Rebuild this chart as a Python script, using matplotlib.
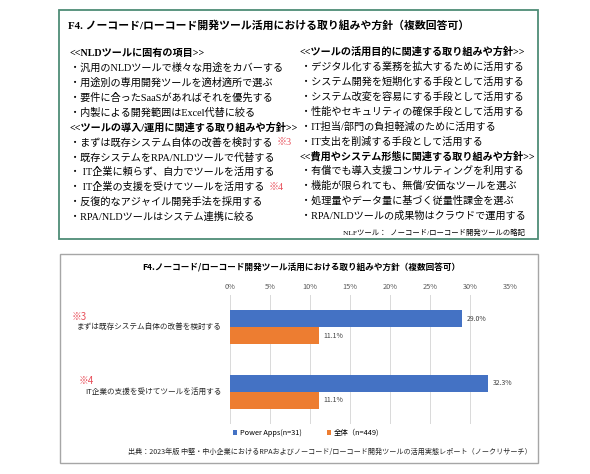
import matplotlib.pyplot as plt
from matplotlib.patches import Rectangle

# chart data
categories = ['まずは既存システム自体の改善を検討する', 'IT企業の支援を受けてツールを活用する']
notes = ['※3', '※4']
power_apps = [29.0, 32.3]
overall = [11.1, 11.1]
series_names = ['Power Apps(n=31)', '全体（n=449)']
ticks = [0, 5, 10, 15, 20, 25, 30, 35]

# text box content
box_title = 'F4. ノーコード/ローコード開発ツール活用における取り組みや方針（複数回答可）'
left_head1 = '<<NLDツールに固有の項目>>'
left_items1 = ['・汎用のNLDツールで様々な用途をカバーする',
               '・用途別の専用開発ツールを適材適所で選ぶ',
               '・要件に合ったSaaSがあればそれを優先する',
               '・内製による開発範囲はExcel代替に絞る']
left_head2 = '<<ツールの導入/運用に関連する取り組みや方針>>'
left_items2 = ['・まずは既存システム自体の改善を検討する',
               '・既存システムをRPA/NLDツールで代替する',
               '・ IT企業に頼らず、自力でツールを活用する',
               '・ IT企業の支援を受けてツールを活用する',
               '・反復的なアジャイル開発手法を採用する',
               '・RPA/NLDツールはシステム連携に絞る']
left_notes2 = ['※3', '', '', '※4', '', '']
right_head1 = '<<ツールの活用目的に関連する取り組みや方針>>'
right_items1 = ['・デジタル化する業務を拡大するために活用する',
                '・システム開発を短期化する手段として活用する',
                '・システム改変を容易にする手段として活用する',
                '・性能やセキュリティの確保手段として活用する',
                '・IT担当/部門の負担軽減のために活用する',
                '・IT支出を削減する手段として活用する']
right_head2 = '<<費用やシステム形態に関連する取り組みや方針>>'
right_items2 = ['・有償でも導入支援コンサルティングを利用する',
                '・機能が限られても、無償/安価なツールを選ぶ',
                '・処理量やデータ量に基づく従量性課金を選ぶ',
                '・RPA/NLDツールの成果物はクラウドで運用する']
abbr_note = 'NLFツール：  ノーコード/ローコード開発ツールの略記'
chart_title = 'F4.ノーコード/ローコード開発ツール活用における取り組みや方針（複数回答可）'
source = '出典：2023年版 中堅・中小企業におけるRPAおよびノーコード/ローコード開発ツールの活用実態レポート（ノークリサーチ）'

serif = ['Liberation Serif', 'Noto Sans CJK JP', 'DejaVu Sans']
sans = ['Noto Sans CJK JP', 'DejaVu Sans']
plt.rcParams['font.family'] = sans
red = '#e8505b'
blue = '#4472c4'
orange = '#ed7d31'

fig = plt.figure(figsize=(5.9, 4.74), dpi=100)

# overlay in pixel coordinates
ov = fig.add_axes([0, 0, 1, 1])
ov.set_xlim(0, 590)
ov.set_ylim(474, 0)
ov.axis('off')

ov.add_patch(Rectangle((59, 10), 479, 229, fill=False, edgecolor='#4e8c76', lw=1.3))
ov.add_patch(Rectangle((60, 254), 478, 209, fill=False, edgecolor='#a6a6a6', lw=1.0))

ov.text(68, 25, box_title, family=serif, fontsize=7.8, fontweight='bold', va='center')

fs = 7.3
step = 14.9
y = 53
ov.text(69, y, left_head1, family=serif, fontsize=fs, fontweight='bold', va='center')
for item in left_items1:
    y += step
    ov.text(70, y, item, family=serif, fontsize=fs, va='center')
y += step
ov.text(69, y, left_head2, family=serif, fontsize=fs, fontweight='bold', va='center')
for item, note in zip(left_items2, left_notes2):
    y += step
    t = ov.text(70, y, item, family=serif, fontsize=fs, va='center')
    if note:
        ov.annotate(note, xy=(1, 0.5), xycoords=t, xytext=(3, 0), textcoords='offset points',
                    family=serif, fontsize=fs, color=red, va='center')

y = 52
ov.text(299, y, right_head1, family=serif, fontsize=fs, fontweight='bold', va='center')
for item in right_items1:
    y += step
    ov.text(301, y, item, family=serif, fontsize=fs, va='center')
y += step
ov.text(299, y, right_head2, family=serif, fontsize=fs, fontweight='bold', va='center')
for item in right_items2:
    y += step
    ov.text(301, y, item, family=serif, fontsize=fs, va='center')
ov.text(525, 232, abbr_note, family=serif, fontsize=5.3, ha='right', va='center')

ov.text(301, 268, chart_title, fontsize=6.2, fontweight='bold', ha='center', va='center')
ov.text(330, 452, source, fontsize=5.1, ha='center', va='center', color='#262626')

# bar chart
ax = fig.add_axes([230 / 590, 1 - 424 / 474, 280 / 590, 129 / 474])
ypos = list(range(len(categories)))
h = 0.26
b1 = ax.barh([p - h / 2 for p in ypos], power_apps, height=h, color=blue, label=series_names[0], zorder=3)
b2 = ax.barh([p + h / 2 for p in ypos], overall, height=h, color=orange, label=series_names[1], zorder=3)
for p, v in zip(ypos, power_apps):
    ax.text(v + 0.6, p - h / 2, f'{v:.1f}%', fontsize=5, va='center', color='#404040')
for p, v in zip(ypos, overall):
    ax.text(v + 0.6, p + h / 2, f'{v:.1f}%', fontsize=5, va='center', color='#404040')
for p, cat, note in zip(ypos, categories, notes):
    ax.text(-1.0, p, cat, fontsize=5.5, ha='right', va='center', color='#262626')
    ax.text(-19.8 + p * 0.9, p - 0.16, note, fontsize=7, ha='left', va='center', color=red)

ax.set_xlim(0, 35)
ax.set_ylim(1.5, -0.5)
ax.set_xticks(ticks)
ax.set_xticklabels([f'{v}%' for v in ticks])
ax.xaxis.tick_top()
ax.tick_params(axis='x', length=0, pad=3, labelsize=5.3, labelcolor='#595959')
ax.set_yticks([])
ax.grid(axis='x', color='#d9d9d9', lw=0.7, zorder=0)
for s in ax.spines.values():
    s.set_visible(False)
ax.patch.set_alpha(0)

fig.legend(handles=[b1, b2], loc='center', bbox_to_anchor=(306 / 590, 1 - 433 / 474), ncol=2,
           frameon=False, fontsize=5.3, handlelength=0.6, handleheight=0.6,
           handletextpad=0.3, columnspacing=3.5)

fig.savefig('out.png', dpi=100)
